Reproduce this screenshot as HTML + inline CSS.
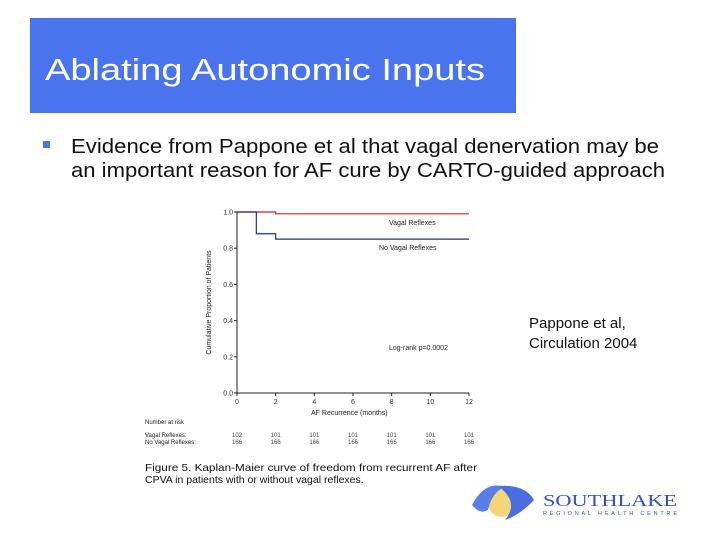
<!DOCTYPE html>
<html><head><meta charset="utf-8"><style>
body{margin:0;width:720px;height:540px;background:#fff;overflow:hidden;font-family:"Liberation Sans",sans-serif}
</style></head><body>
<svg width="720" height="540" viewBox="0 0 720 540" xmlns="http://www.w3.org/2000/svg">
<rect x="30" y="18" width="486" height="95" fill="#4a74ee"/>
<text x="45" y="80" font-size="31" fill="#fff" textLength="440" lengthAdjust="spacingAndGlyphs">Ablating Autonomic Inputs</text>
<rect x="43" y="141" width="7" height="7" fill="#4a74ee"/>
<text x="71" y="153" font-size="20" fill="#111" textLength="588" lengthAdjust="spacingAndGlyphs">Evidence from Pappone et al that vagal denervation may be</text>
<text x="71" y="177" font-size="20" fill="#111" textLength="594" lengthAdjust="spacingAndGlyphs">an important reason for AF cure by CARTO-guided approach</text>
<g id="chart"></g>
<text x="529" y="328" font-size="15" fill="#111">Pappone et al,</text>
<text x="529" y="348" font-size="15" fill="#111">Circulation 2004</text>
<g>
<circle cx="502" cy="503" r="14" fill="#f3d57a"/>
<path d="M472 505 Q485 480 505 487 Q492 492 488 510 Q480 515 472 505Z" fill="#5a7ee8"/>
<path d="M498 486 Q525 484 534 500 Q520 515 505 520 Q520 502 498 486Z" fill="#4a6ee0"/>
<text x="543" y="506" font-size="17" fill="#3250c8" font-family="Liberation Serif" textLength="134" lengthAdjust="spacingAndGlyphs">SOUTHLAKE</text>
<text x="543" y="515" font-size="5.5" fill="#3250c8" textLength="134" lengthAdjust="spacing">REGIONAL HEALTH CENTRE</text>
</g>
</svg>
<script>
const xTicks=[0,2,4,6,8,10,12];
const yTicks=[0.0,0.2,0.4,0.6,0.8,1.0];
const vagalX=[0,2,12];
const vagalY=[1.0,0.99,0.99];
const noVagalX=[0,1,2,12];
const noVagalY=[1.0,0.88,0.85,0.85];
const riskVagal=[102,101,101,101,101,101,101];
const riskNoVagal=[166,166,166,166,166,166,166];
const NS="http://www.w3.org/2000/svg";
const g=document.getElementById('chart');
const X=v=>237+v*(469-237)/12, Y=v=>393-v*(393-212);
function mk(t,a,txt){const e=document.createElementNS(NS,t);for(const k in a)e.setAttribute(k,a[k]);if(txt!==undefined)e.textContent=txt;g.appendChild(e);return e;}
let ax=mk('path',{d:`M${X(0)} ${Y(1)}V${Y(0)}H${X(12)}`,stroke:'#222',fill:'none','stroke-width':1});


xTicks.forEach((t,i)=>{
 mk('line',{x1:X(t),x2:X(t),y1:Y(0),y2:Y(0)+3,stroke:'#222'});
 let l=mk('text',{x:X(t),y:Y(0)+11,'font-size':7,'text-anchor':'middle',fill:'#333'},t);
 
 
 let a=mk('text',{x:X(t),y:437,'font-size':6,'text-anchor':'middle',fill:'#444'},riskVagal[i]);
 
 
 let b=mk('text',{x:X(t),y:444,'font-size':6,'text-anchor':'middle',fill:'#444'},riskNoVagal[i]);
 
 
});
yTicks.forEach(t=>{
 mk('line',{x1:X(0)-3,x2:X(0),y1:Y(t),y2:Y(t),stroke:'#222'});
 let l=mk('text',{x:X(0)-4,y:Y(t)+2.5,'font-size':7,'text-anchor':'end',fill:'#333'},t.toFixed(1));
 
 
});
function step(xs,ys){let d=`M${X(xs[0])} ${Y(ys[0])}`;for(let i=1;i<xs.length;i++){d+=`H${X(xs[i])}V${Y(ys[i])}`;}return d;}
let r=mk('path',{d:step(vagalX,vagalY),stroke:'#d02030',fill:'none','stroke-width':1.2});


let bl=mk('path',{d:step(noVagalX,noVagalY),stroke:'#203080',fill:'none','stroke-width':1.2});


const lbls=[[389,225,'Vagal Reflexes','vagal-label'],[379,250,'No Vagal Reflexes','no-vagal-label'],[389,350,'Log-rank p=0.0002','logrank-label'],[311,415,'AF Recurrence (months)','x-axis-title'],[145,424,'Number at risk','risk-title'],[145,437,'Vagal Reflexes:','risk-vagal-label'],[145,444,'No Vagal Reflexes:','risk-no-vagal-label']];
lbls.forEach(([x,y,t,n])=>{let e=mk('text',{x,y,'font-size':n.startsWith('risk')?6:7,fill:'#222'},t);
 
 });
let yt=mk('text',{x:0,y:0,'font-size':7,fill:'#222','text-anchor':'middle',transform:`translate(211,${Y(0.5)}) rotate(-90)`},'Cumulative Proportion of Patients');


let c1=mk('text',{x:145,y:471,'font-size':10.5,fill:'#111',textLength:332,lengthAdjust:'spacingAndGlyphs'},'Figure 5. Kaplan-Maier curve of freedom from recurrent AF after');


let c2=mk('text',{x:145,y:483,'font-size':10.5,fill:'#111'},'CPVA in patients with or without vagal reflexes.');


</script>
</body></html>
